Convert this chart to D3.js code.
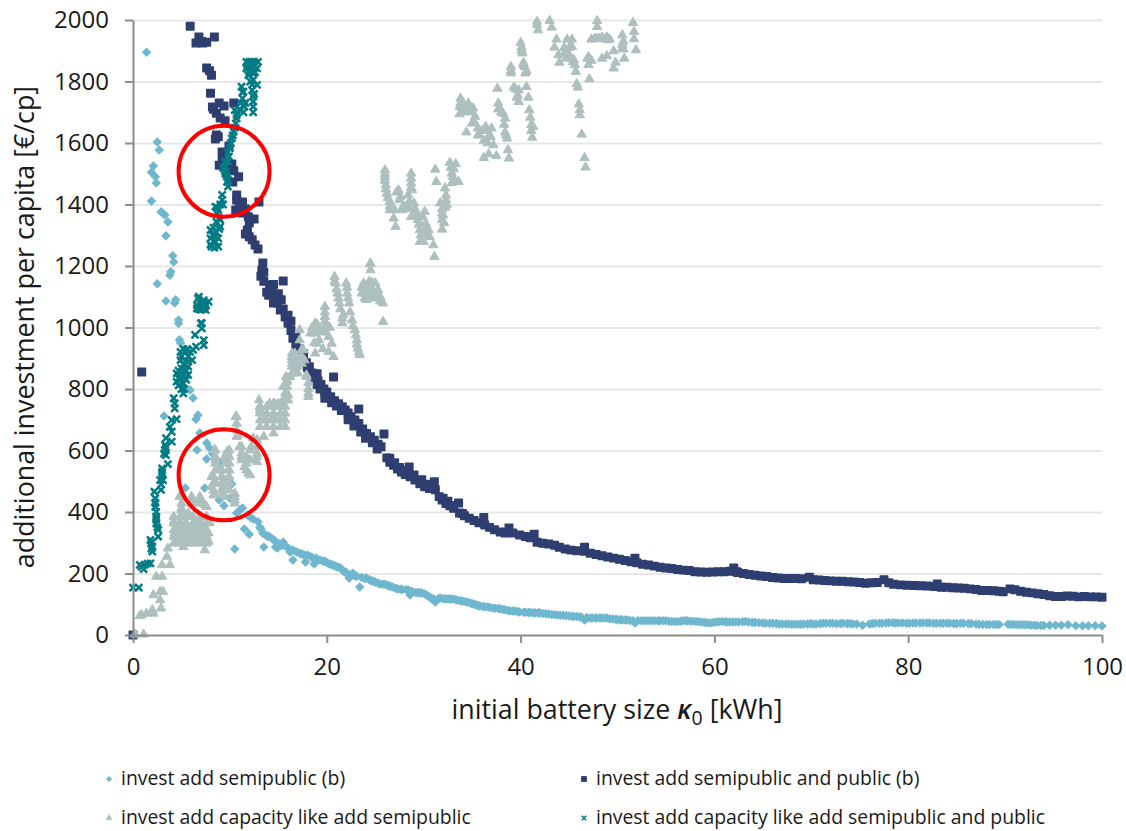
<!DOCTYPE html>
<html><head><meta charset="utf-8">
<script src="https://cdn.jsdelivr.net/npm/d3@7"></script>
<style>
html,body{margin:0;padding:0;background:#fff;overflow:hidden}
text{font-family:"Open Sans","Noto Sans",sans-serif;fill:#1a1a1a}
</style></head><body>
<svg id="c" width="1126" height="831"></svg>
<script>
const xTicks=[0,20,40,60,80,100];
const yTicks=[0,200,400,600,800,1000,1200,1400,1600,1800,2000];
const xTitle="initial battery size ";
const yTitle="additional investment per capita [€/cp]";
const seriesNames=["invest add semipublic (b)","invest add semipublic and public (b)","invest add capacity like add semipublic","invest add capacity like add semipublic and public"];
const seriesColors=["#6fb7cf","#2f3e70","#adbfbf","#007c85"];
const circleCentres=[[9.4,1508],[9.4,521]];

const semipublic=[[0,0],[1.4,1895],[2.5,1603],[2.7,1577],[2.1,1525],[1.9,1505],[2.3,1490],[2.4,1470],[1.9,1411],[2.9,1376],[3.1,1371],[3.3,1366],[3.6,1343],[3.4,1298],[4.1,1233],[4.2,1213],[3.9,1181],[3.8,1170],[2.5,1142],[3.4,1086],[4.4,1090],[4.3,1080],[4.7,1024],[4.7,1013],[4.9,950],[4.8,960],[5.9,797],[6.2,771],[6.7,715],[6.5,702],[3.2,712],[6.9,657],[7.6,624],[7.9,608],[6.6,602],[7.6,572],[8.2,590],[8.6,570],[9,559],[5.4,478],[7.4,478],[10.2,491],[8.9,439],[9.4,420],[10,445],[10.7,397],[11,405],[11.3,413],[11.8,390],[12.1,383],[12.4,377],[12.9,368],[11.5,345],[12,328],[10.5,280],[13.1,350],[13.4,331],[13.7,325],[13.9,320],[13.5,286],[14.3,315],[14.8,300],[15.5,302],[14.7,286],[14.9,283],[15.2,290],[15.7,290],[16.2,270],[16.6,275],[16.9,270],[16.5,244],[17.2,266],[17.6,262],[18,260],[17.8,237],[18.7,231],[18.5,252],[19,246],[19.3,244],[19.8,240],[20.2,232],[20.6,228],[21,222],[21.4,218],[21.8,205],[22.1,200],[22.4,195],[22.7,201],[22.3,185],[22.9,192],[23.4,156],[23.6,187],[24.1,185],[24.6,176],[25,172],[25.5,166],[26,165],[26.4,160],[26.8,156],[27.3,150],[27.8,148],[28.4,146],[28.6,130],[28.9,140],[29.4,138],[29.8,137],[30.3,130],[30.8,118],[31.2,107],[31.7,120],[32.2,118],[32.6,117],[33,117],[33.5,113],[34,110],[34.5,107],[35,102],[35.4,98],[35.8,94],[36.3,92],[36.8,90],[37.4,87],[37.9,85],[38.4,82],[38.9,79],[39.4,78],[39.9,75],[40.5,74],[41,73],[41.5,72],[42,72],[42.6,69],[43.2,67],[43.8,65],[44.4,64],[45,62],[45.5,60],[46.1,59],[46.6,49],[46.9,55],[47.4,55],[47.9,55],[48.4,55],[48.9,55],[49.5,52],[50,50],[50.5,49],[51,49],[51.8,39],[52.1,46],[52.7,46],[53.3,46],[53.9,46],[54.4,46],[55,46],[55.6,44],[56.2,44],[56.7,46],[57.2,46],[57.8,45],[58.4,43],[59,41],[59.6,39],[60.2,42],[60.8,44],[61.3,42],[61.9,42],[62.5,42],[63.2,44],[63.9,41],[64.6,40],[65.3,38],[66,38],[66.7,36],[67.4,36],[68,35],[68.6,35],[69.2,36],[69.9,37],[70.5,36],[71.2,38],[71.9,38],[72.6,37],[73.3,38],[74,37],[74.7,36],[75.3,32],[76,36],[76.6,38],[77.3,38],[78,40],[78.7,39],[79.4,39],[80.1,38],[80.8,39],[81.5,39],[82.2,39],[82.9,38],[83.6,38],[84.3,38],[85,37],[85.7,38],[86.5,37],[87.3,35],[88.1,34],[88.8,34],[89.4,34],[90.3,35],[90.9,34],[91.5,33],[92.1,33],[92.7,32],[93.3,31],[94,31],[94.6,32],[95.2,32],[95.8,32],[96.5,33],[97.3,30],[98,30],[98.6,30],[99.3,30],[100,29],
[13.2,345],[14,322],[14.6,308],[15,298],[15.4,292],[16,283],[16.4,276],[17.4,263],[17.9,258],[18.3,255],[18.9,250],[19.6,240],[20,236],[20.4,230],[20.8,225],[21.2,220],[21.6,212],[22,204],[23.1,191],[23.9,184],[24.4,180],[24.8,175],[25.3,168],[25.8,165],[26.2,162],[26.6,158],[27.1,152],[27.6,149],[28.2,147],[28.7,142],[29.2,138],[29.6,137],[30.1,133],[30.6,124],[31,118],[31.5,118],[32,118],[32.4,117],[32.8,117],[33.3,115],[33.8,111],[34.3,108],[34.8,104],[35.2,100],[35.6,96],[36.1,93],[36.6,91],[37.1,88],[37.7,86],[38.2,83],[38.7,80],[39.2,78],[39.7,76],[40.3,74],[40.8,73],[41.3,72],[41.8,72],[42.3,70],[42.9,68],[43.5,66],[44.1,64],[44.7,63],[45.3,61],[45.8,60],[46.3,58],[46.8,56],[47.2,55],[47.7,55],[48.2,55],[48.7,55],[49.2,53],[49.8,51],[50.3,50],[50.8,49],[51.3,47],[51.6,46],[52.4,46],[53,46],[53.6,46],[54.2,46],[54.7,46],[55.3,45],[55.9,44],[56.5,45],[57,46],[57.5,45],[58.1,44],[58.7,42],[59.3,40],[59.9,41],[60.5,43],[61.1,43],[61.6,42],[62.2,42],[62.9,43],[63.5,42],[64.2,41],[65,39],[65.7,38],[66.4,37],[67,36],[67.7,36],[68.3,35],[68.9,35],[69.6,36],[70.2,36],[70.9,37],[71.5,38],[72.2,38],[73,37],[73.7,37],[74.3,36],[76.3,37],[77,38],[77.7,39],[78.4,40],[79,39],[79.8,38],[80.5,39],[81.2,39],[81.9,39],[82.6,38],[83.3,38],[84,38],[84.7,37],[85.4,38],[86.2,37],[87,36],[87.7,34],[88.4,34],[89.1,34],[90.6,34],[91.2,33],[91.8,33],[92.4,33],[93,32],[93.7,31]];

const semipublicAndPublic=[[0,0],[0.9,855],[5.9,1980],[6.8,1945],[6.5,1925],[7.1,1930],[7.6,1928],[8.4,1945],[7.6,1844],[7.9,1835],[8.1,1820],[8.0,1762],[8.2,1717],[8.9,1730],[9.4,1720],[8.6,1697],[9,1681],[9.5,1672],[10.4,1730],[8.6,1626],[8.5,1613],[9.9,1590],[9.2,1571],[8.9,1528],[10.2,1532],[9.6,1502],[10.9,1490],[10.3,1473],[10.7,1431],[10.7,1415],[11.3,1408],[13,1408],[10.6,1382],[11.3,1372],[11.9,1360],[12.5,1353],[11.8,1317],[11.6,1304],[12.3,1285],[12.6,1268],[12.9,1255],[13.4,1210],[13.3,1187],[13.2,1167],[15.5,1151],[14.1,1138],[13.8,1115],[14.3,1122],[14.7,1096],[14.9,1080],[15.2,1057],[15.7,1034],[16.0,1014],[16.3,990],[16.5,965],[16.8,945],[17.0,925],[17.3,905],[17.6,895],[17.9,885],[18.2,872],[18.5,852],[18.8,838],[19.1,826],[19.4,815],[19.7,800],[20.0,790],[20.4,775],[20.7,839],[20.8,762],[21.2,752],[21.6,742],[21.9,732],[22.2,722],[22.5,710],[22.9,699],[23.3,735],[23.3,688],[23.7,670],[24.1,655],[24.5,645],[24.9,633],[25.3,620],[25.6,612],[25.9,654],[26.2,576],[26.5,562],[26.9,552],[27.3,540],[27.7,530],[28.1,522],[28.5,546],[28.6,515],[29.1,504],[29.6,492],[30.1,482],[30.6,476],[31.1,498],[31.2,472],[31.6,450],[31.9,439],[32.3,428],[32.7,420],[33.1,412],[33.6,429],[33.7,397],[34.2,388],[34.7,380],[35.2,372],[35.7,365],[36.2,382],[36.3,358],[36.8,350],[37.3,342],[37.9,335],[38.4,332],[38.8,348],[39.2,332],[39.9,325],[40.5,320],[41.0,316],[41.4,328],[41.7,302],[42.3,298],[42.9,296],[43.5,292],[44.0,285],[44.6,280],[45.2,276],[45.8,274],[46.6,285],[46.6,272],[47.2,266],[47.8,262],[48.4,258],[49.0,254],[49.6,250],[50.2,246],[50.8,242],[51.4,238],[51.8,250],[52.0,235],[52.6,230],[53.2,228],[53.8,224],[54.4,220],[55.0,218],[55.6,216],[56.2,213],[56.8,211],[57.4,210],[58,206],[58.6,205],[59.2,204],[59.8,205],[60.4,206],[61,206],[61.6,207],[62,218],[62.3,206],[62.4,203],[63,200],[63.6,197],[64.2,194],[64.8,192],[65.4,190],[66,187],[66.6,185],[67.2,184],[67.8,184],[68.4,184],[69,183],[69.8,188],[70.2,180],[70.8,179],[71.4,177],[72,176],[72.6,175],[73.2,175],[73.8,173],[74.4,172],[75,171],[75.6,168],[76.2,170],[76.8,171],[77.5,180],[78,170],[78.5,165],[79.2,163],[79.9,162],[80.6,161],[81.3,160],[82,159],[82.7,158],[83,166],[83.4,155],[84,155],[84.6,154],[85.2,153],[85.8,152],[86.4,150],[87,148],[87.6,145],[88.2,145],[88.8,144],[89.4,142],[89.8,141],[90.5,150],[91,147],[91.6,142],[92.2,139],[92.8,137],[93.4,134],[94,132],[94.6,128],[95.2,125],[95.8,125],[96.4,127],[97,126],[97.6,124],[98.2,125],[98.8,124],[99.4,124],[100,123],
[14.5,1140],[15,1110],[15.3,1090],[15.5,1060],[16,1040],[16.3,1020],[16.8,970],[17.2,930],[17.6,915],[18,870],[18.5,840],[19,850],[19.3,800],[19.8,785],[19,815],[19.8,770],[20.5,755],[21,745],[21.5,730],[22.2,700],[22.8,680],[23.5,660],[24,640],[24.7,625],[25.2,605],[26.5,575],[27,560],[27.5,545],[28,535],[29,520],[29.8,505],[30.5,490],[31,485],[32,445],[32.5,435],[33,420],[34,395],
[7.2,1925],[8.3,1710],[8.8,1620],[9.2,1545],[10.4,1510],[11,1395],[11.6,1385],[12,1340],[12,1295],[13.5,1180],[13.5,1150],[14,1105],[14.5,1080]];

const capacityLikeSemipublic=[[41.7,1984],[41.7,1995],[41.8,1967],[43,1998],[43.2,1976],[43.7,1937],[43.5,1911],[43.9,1886],[44,1862],[44.8,1937],[45.3,1937],[44.5,1892],[44.9,1892],[45.3,1913],[45.1,1881],[45.4,1864],[45.6,1854],[45.7,1832],[45.8,1792],[45.9,1781],[46,1726],[46.1,1707],[46.1,1691],[46.3,1628],[46.6,1552],[46.7,1521],[47.1,1808],[46.9,1875],[47,1854],[47.3,1868],[47.9,1997],[47.9,1978],[47.3,1937],[47.8,1940],[48.4,1944],[48.9,1944],[49.2,1937],[48.4,1875],[48.9,1883],[49.6,1899],[49.8,1862],[49.6,1843],[50.7,1875],[50.5,1951],[50.6,1930],[50.5,1908],[51.6,1991],[51.7,1962],[51.7,1938],[51.9,1902],
[40,1926],[40.1,1911],[40.2,1892],[39,1848],[39,1827],[40.3,1861],[40.4,1848],[40.5,1827],[40.6,1783],[39.3,1781],[39.8,1772],[39.6,1748],[39.8,1734],[40.8,1748],[40.9,1707],[41,1683],[41.1,1659],[41.3,1653],[41.2,1618],[37.6,1777],[37.7,1729],[37.8,1713],[38.2,1696],[38.4,1680],[33.8,1745],[33.7,1718],[33.7,1694],[34.6,1729],[34.4,1707],[35.1,1713],[35.3,1686],[35,1664],[34.4,1635],[35.6,1648],[35.7,1626],[36.4,1653],[37,1648],[36.8,1626],[36.2,1608],[37.2,1593],[38.4,1635],[38.6,1615],[38.7,1577],[38.8,1550],[36.2,1552],[36.7,1564],[37.5,1558],
[26,1512],[26,1490],[26.1,1463],[26.2,1436],[26.5,1409],[26.5,1382],[26.9,1355],[27.1,1328],[27.4,1447],[27.6,1426],[28.4,1431],[28.8,1447],[28.7,1501],[28.7,1469],[27,1382],[27.7,1382],[28.4,1393],[29,1404],[28.7,1360],[29.2,1377],[29.4,1350],[29.6,1317],[30.1,1377],[30.2,1339],[30.5,1317],[30.6,1295],[29.6,1279],[30,1279],[31,1268],[31.1,1230],[31.2,1514],[31.3,1474],[32.7,1536],[33.3,1532],[32.9,1501],[33.2,1474],[33.6,1474],[32.2,1453],[32.3,1415],[31.7,1404],[31.9,1371],[31.9,1350],[31.9,1319],[32.4,1398],[24.5,1207],
[24.5,1209],[24.5,1187],[20.8,1165],[20.9,1144],[21.1,1111],[21.3,1079],[21.7,1041],[21.6,1014],[22,1144],[22.1,1111],[22.3,1079],[22.6,1024],[22.9,992],[23.1,959],[23.2,932],[23.4,911],[23.8,1144],[23.6,1111],[23.9,1095],[24.3,1144],[24.6,1122],[25,1144],[24.8,1095],[25.3,1122],[25.5,1100],[25.8,1079],[25.8,1019],[19.8,1068],[19.8,1035],[19.8,1003],[18.8,1014],[18.3,981],[18.8,981],[19.3,992],[19,948],[18.8,916],[20.2,970],[20.5,948],[20.2,921],[20.7,905],[17.2,992],[17.2,959],[17.6,927],[17.7,894],[16.4,905],[16.7,894],[16.4,873],[16.9,856],[16.2,840],[15.9,824],[15.7,786],[16,764],[17.9,845],[18.1,786],[13,764],[13.1,742],[14.1,753],[14.6,753],[15.3,753],
[13.1,732],[13.5,699],[13.5,645],[14.5,753],[15,753],[15.5,764],[14.5,710],[15.2,699],[14.5,656],[15.5,808],[16,780],[15.8,840],[16.4,883],[17.1,894],[16.7,916],[17.9,840],
[10.6,710],[10.7,688],[10.8,650],[8.4,602],[8.5,569],[8.8,542],[9.7,596],[9.7,569],[9.8,537],[11,612],[11.2,580],[11.5,547],[11.9,526],[12.4,640],[12.2,612],[12.8,580],[8.1,515],[8.1,482],[8.6,493],[9.2,515],[9.7,504],[9.3,482],[8.5,455],[9.2,455],[10.5,450],[10.5,428],
[4.8,450],[6.1,439],[6.9,439],[7.4,423],[5,412],[5.7,396],[4.2,369],[4.9,369],[5.5,363],[6.4,374],[7.1,363],[7.9,365],[4.3,331],[5,336],[5.7,331],[6.4,336],[7.1,331],[7.8,331],[4.3,304],[5.2,287],[6.1,304],[6.9,304],[7.8,304],[7.4,276],[3.6,282],[3.5,255],[3,228],[3.8,228],[2.4,190],[3,190],[2.1,130],[2.8,141],[3.1,141],[2.8,114],[2.9,87],[2.1,70],[0.9,65],[1.4,70],[0.7,62],[2,81],[0.2,2],[1.1,2],[4.5,352],[5.4,346],[6.1,352],[6.7,352],[7.4,346],[4.7,320],[5.5,314],[6.4,314],[7.4,314],[5,385],
[8.5,601],[8.5,580],[8.5,558],[8.5,536],[9.15,536],[9.15,515],[9.15,493],[9.15,471],[9.94,601],[9.94,580],[9.94,558],[9.94,536],[9.94,515],[9.94,493],[9.94,471],[8.3,515],[8.3,493],[8.3,471],[8.3,455],[9.5,580],[9.5,558],[9.5,450],[10.7,710],[10.7,666],[10.7,645],[11.2,612],[11.2,591],[11.2,569],[11.7,580],[11.7,558],[11.7,536],[12.1,601],[12.1,569],[12.1,520],[12.8,634],[12.8,612],[12.8,590],[12.8,563],[10.5,460],[10.5,439],
[4.2,385],[4.85,385],[5.5,385],[6.2,385],[6.9,385],[7.6,385],[4.2,363],[4.85,363],[5.5,363],[6.2,363],[6.9,363],[7.6,363],[4.2,341],[4.85,341],[5.5,341],[6.2,341],[6.9,341],[7.6,341],[4.2,320],[4.85,320],[5.5,320],[6.2,320],[6.9,320],[7.6,320],[4.2,298],[4.85,298],[5.5,298],[6.2,298],[6.9,298],[7.6,298],[5,428],[5,406],[6.05,450],[6.05,428],[6.9,450],[6.9,428],[7.6,417],
[13.1,743],[13.8,743],[14.5,743],[15.2,743],[15.7,743],[13.1,721],[13.8,721],[14.5,721],[15.2,721],[15.7,721],[13.1,699],[13.8,699],[14.5,699],[15.2,699],[15.7,699],[13.1,677],[13.8,677],[14.5,677],[15.2,677],[15.7,677],[15.9,829],[15.9,808],[15.9,786],[15.9,764],[16.4,916],[16.4,894],[16.4,851],[17,905],[17,873],[17,851],[17.4,927],[17.4,905],[17.4,883],[18.1,820],[18.1,800],[18.1,775],
[18.5,1000],[19,1010],[19.5,985],[19.2,960],[18.7,950],[19.6,930],[20,1000],[20.3,1000],[19.8,1050],[19.8,1020],[19.9,985],[20.8,1150],[21,1125],[21.2,1095],[21.4,1060],[21.6,1030],[22.1,1130],[22.2,1095],[22.4,1050],[22.7,1005],[23,975],[23.1,945],[23.3,920],[23.6,1130],[23.8,1120],[24,1110],[24.2,1125],[24.5,1100],[24.8,1120],[25.1,1110],[25.5,1085],[24.1,1090],[24.4,1150],[24.7,1145],
[26,1500],[26,1478],[26.1,1450],[26.3,1422],[26.5,1395],[27.2,1440],[27.5,1415],[27.9,1395],[28.2,1385],[28.7,1485],[28.7,1455],[28.5,1410],[29.1,1385],[29.3,1360],[29.5,1335],[29.9,1360],[30.3,1325],[30.4,1305],[29.7,1300],[31.9,1385],[32,1365],[32.1,1340],[32.3,1430],[32.2,1390],[32.8,1520],[33.1,1515],[33,1490],[33,1475],[32.9,1470],
[33.8,1730],[34,1700],[34.3,1720],[34.9,1700],[35.2,1670],[35.6,1625],[36,1640],[36.6,1640],[36.9,1620],[36.6,1600],[37.7,1710],[38,1700],[38.3,1660],[38.5,1625],[39,1835],[39.7,1755],[40.1,1900],[40.3,1855],[40.6,1835],[39.5,1775],[41.1,1640],[44.5,1910],[45,1910],[44.7,1875],[47.6,1938],[48.1,1940],[48.6,1938],[49,1935],[50.5,1920],[50.6,1905],[45.5,1870],[47,1880]];

const capacityLikeBoth=[[11.7,1864],[12.2,1864],[12.9,1864],[11.7,1843],[12.2,1848],[12.8,1843],[11.9,1821],[12.4,1827],[12.4,1805],[12.8,1789],[11.2,1783],[11.4,1767],[12.3,1772],[12.4,1751],[12.4,1718],[11.3,1745],[11.5,1718],[10.5,1707],[10.7,1691],[10.6,1664],[10.4,1637],[10.2,1615],[10,1583],[9.9,1556],[9.5,1539],[9.3,1518],[9.6,1501],[9.7,1474],[9.8,1458],[9.2,1431],[9.2,1415],[8.5,1393],[8.8,1382],[8.6,1344],[9,1328],[8,1317],[8,1290],[8.1,1263],[8.8,1263],[8.5,1295],
[6.7,1095],[6.6,1073],[7.3,1089],[7.8,1084],[7,1057],[7.5,1057],[6.6,1062],[7,1014],[7.1,997],[7.1,1014],[6.4,976],[7.3,959],[7.3,943],[6.5,938],[4.9,921],[5.4,921],[5.9,921],[6.2,927],[4.9,894],[5.4,894],[6.1,894],[5,867],[5.7,873],[4.5,851],[5.2,846],[5.7,846],[4.5,824],[5.2,818],[5.2,786],[4.2,770],[4.3,753],[4.3,737],[4.5,702],[4,699],[3.8,677],[4,661],[3.3,618],[3.3,602],[3.4,585],[3.6,556],[4,629],[3,542],[3,520],[2.8,504],[3.1,504],[2.9,472],[2.2,466],[2.3,444],[2.3,417],[2.4,385],[2.4,363],[2.6,342],[2.6,320],[1.8,309],[2,287],[2,271],[0.7,228],[1.2,228],[1.8,233],[1.1,214],[0,154],[0.6,154],
[12,1864],[12.5,1864],[12,1830],[12.5,1850],[11.8,1850],[12.6,1830],[12.1,1800],[12.3,1790],[12.5,1760],[12.4,1735],[12.4,1700],[11.3,1765],[11.1,1730],[11.4,1700],[11.6,1730],[11,1710],[10.7,1680],[10.5,1650],[10.3,1625],[10.1,1600],[9.8,1570],[9.8,1540],[9.6,1525],[9.5,1510],[9.7,1490],[9.8,1480],[9.3,1400],[9,1400],[8.7,1390],[8.7,1370],[8.3,1325],[8.6,1310],[8.9,1320],[8.2,1300],[8.5,1280],[8.8,1290],[8,1270],[8.4,1260],[9,1350],[8.9,1355],
[6.8,1100],[7.4,1080],[7,1075],[7.5,1070],[6.8,1060],[7.2,1060],[5.2,930],[5.6,930],[5,905],[5.7,905],[5.2,880],[5.7,890],[4.7,860],[5,855],[5.5,860],[4.7,835],[5,835],[5.5,830],[4.7,812],[5,800],[5.3,800],[3.4,640],[3.4,610],[3.2,590],[2.9,490],[3,530],[2.3,430],[2.4,400],[2.4,375],[2.5,350],[1.9,300],[1.9,280],[0.9,222],[1.5,232]];

const svg=d3.select("#c");
const x=d3.scaleLinear().domain([0,100]).range([133,1102]);
const y=d3.scaleLinear().domain([0,2000]).range([635,20]);

const grid=svg.append("g").attr("transform","translate(133,0)")
  .call(d3.axisLeft(y).tickValues(yTicks.slice(1)).tickSize(-969).tickFormat(""));
grid.select(".domain").remove();
grid.selectAll("line").attr("stroke","#e6e8e8").attr("stroke-width",2);

const sym=[
  d3.symbol().type(d3.symbolDiamond2).size(58)(),
  d3.symbol().type(d3.symbolSquare).size(56)(),
  d3.symbol().type(d3.symbolTriangle).size(38)(),
  d3.symbol().type(d3.symbolX).size(34)()
];
function drawMarks(sel,pathIdx){
  sel.attr("d",sym[pathIdx]);
  if(pathIdx===3) sel.attr("fill","none").attr("stroke",seriesColors[3]).attr("stroke-width",2.5);
  else if(pathIdx===1) sel.attr("fill",seriesColors[1]).attr("stroke",seriesColors[1]).attr("stroke-width",1.5).attr("stroke-linejoin","round");
  else if(pathIdx===2) sel.attr("fill",seriesColors[2]).attr("stroke",seriesColors[2]).attr("stroke-width",1).attr("stroke-linejoin","round");
  else sel.attr("fill",seriesColors[pathIdx]);
}
[semipublic,semipublicAndPublic,capacityLikeSemipublic,capacityLikeBoth].forEach((data,i)=>{
  svg.append("g").selectAll("path").data(data).join("path")
    .attr("transform",d=>`translate(${x(d[0])},${y(d[1])})`)
    .call(drawMarks,i);
});

const ax=svg.append("g").attr("transform","translate(0,635)")
  .call(d3.axisBottom(x).tickValues(xTicks).tickFormat(d3.format("d")).tickSize(8).tickPadding(15).tickSizeOuter(0));
const ay=svg.append("g").attr("transform","translate(133,0)")
  .call(d3.axisLeft(y).tickValues(yTicks).tickFormat(d3.format("d")).tickSize(8).tickPadding(16).tickSizeOuter(0));
[ax,ay].forEach(a=>{
  a.selectAll(".domain,line").attr("stroke","#8c8c8c").attr("stroke-width",2);
  a.selectAll("text").style("font-size","24px").style("font-family",'"Open Sans"').attr("fill","#1a1a1a");
});

svg.append("g").selectAll("circle").data(circleCentres).join("circle")
  .attr("cx",d=>x(d[0])).attr("cy",d=>y(d[1])).attr("r",45.5)
  .attr("fill","none").attr("stroke","#ff0000").attr("stroke-width",4);

svg.append("text").attr("transform","translate(34,327) rotate(-90)").attr("text-anchor","middle")
  .style("font-size","26.8px").text(yTitle);
const xt=svg.append("text").attr("x",617).attr("y",719).attr("text-anchor","middle").style("font-size","26.8px");
xt.append("tspan").text(xTitle);
xt.append("tspan").style("font-style","italic").style("font-weight","600").text("κ");
xt.append("tspan").attr("dy",6).style("font-size","19.5px").text("0");
xt.append("tspan").attr("dy",-6).text(" [kWh]");

const legX=[109,584], legY=[779,818];
seriesNames.forEach((n,i)=>{
  const lx=legX[i%2], ly=legY[i>>1];
  const p=svg.append("path").attr("transform",`translate(${lx},${ly}) scale(0.65)`);
  drawMarks(p,i);
  svg.append("text").attr("x",lx+12).attr("y",ly+6).style("font-size","19.4px").text(n);
});
</script></body></html>
